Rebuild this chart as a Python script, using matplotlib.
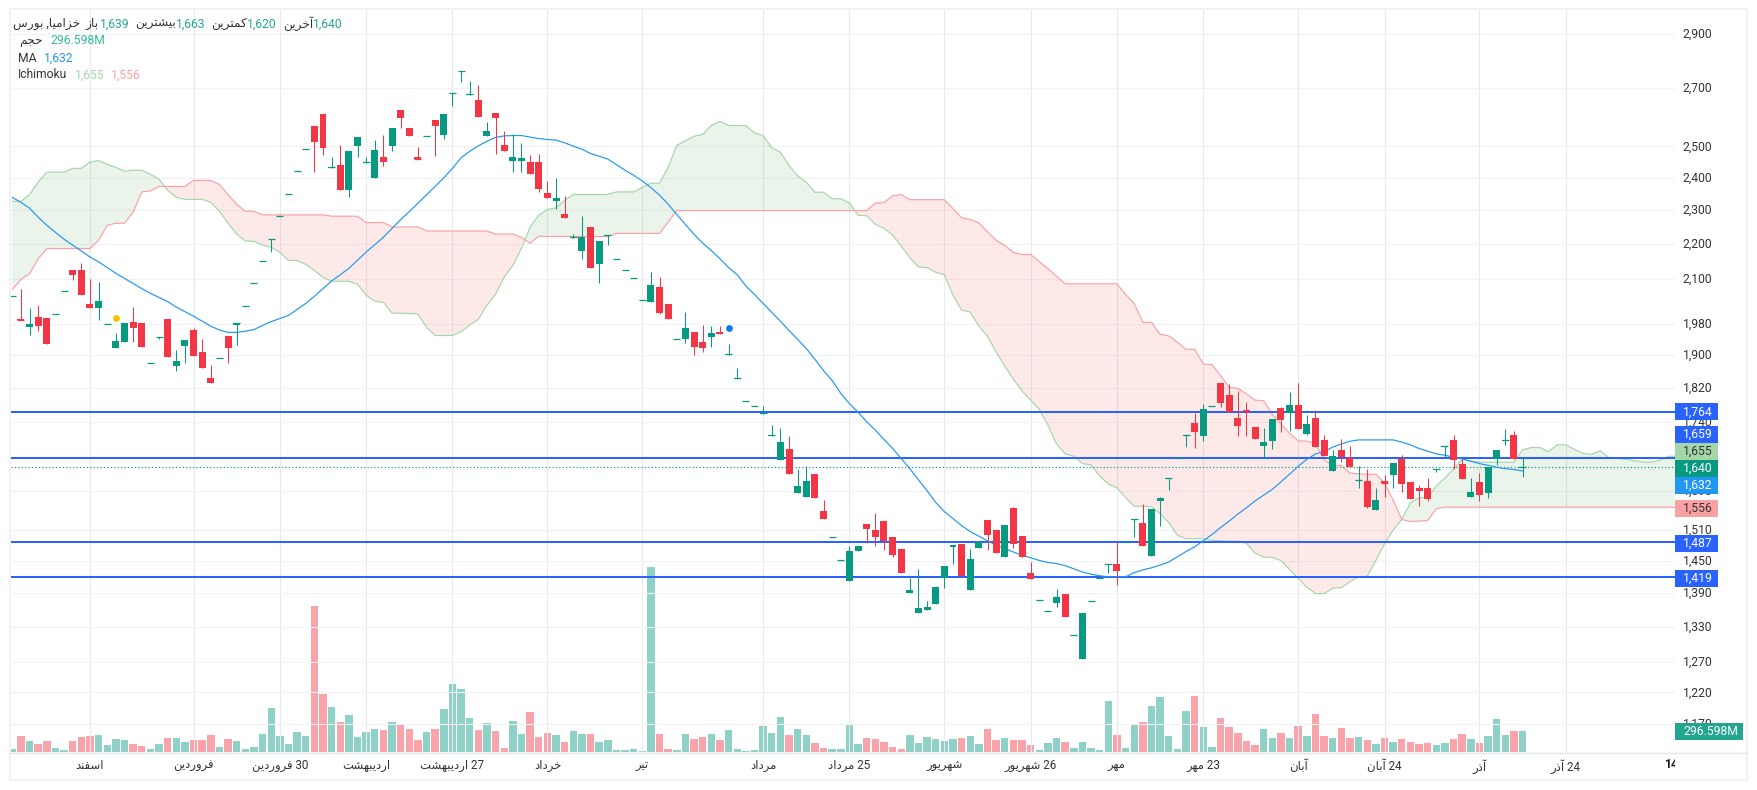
import re
import matplotlib.pyplot as plt
from matplotlib.patches import Rectangle
from matplotlib.transforms import Bbox, ScaledTranslation

plt.rcParams['font.family'] = ['Roboto', 'DejaVu Sans']

opens = [2053,1994,1971,1998,1995,2005,2067,2124,2124,2032,2021,1979,1918,1933,1985,1982,1882,1947,1992,1873,
         1923,1964,1908,1844,1892,1948,1977,2028,2090,2150,2213,2283,2349,2421,2493,2567,2608,2431,2439,2360,
         2501,2447,2397,2464,2501,2621,2563,2464,2536,2590,2537,2681,2760,2676,2656,2534,2611,2504,2454,2454,
         2448,2451,2351,2326,2287,2218,2178,2248,2141,2222,2157,2124,2104,2044,2037,2077,2032,1942,1941,1959,
         1933,1946,1959,1901,1842,1788,1777,1760,1708,1656,1680,1585,1577,1625,1548,1497,1452,1412,1469,1522,
         1510,1528,1496,1473,1390,1354,1360,1370,1418,1477,1483,1395,1475,1530,1510,1457,1554,1498,1428,1377,
         1357,1372,1388,1315,1274,1375,1417,1443,1445,1487,1531,1524,1459,1569,1614,1661,1709,1738,1708,1777,
         1832,1803,1749,1768,1729,1686,1697,1773,1761,1779,1713,1749,1700,1632,1678,1660,1612,1610,1550,1610,
         1623,1658,1608,1596,1596,1635,1684,1700,1647,1577,1608,1585,1658,1698,1711,1639]
highs = [2053,2072,2021,2029,1995,2005,2067,2124,2144,2100,2091,1979,1956,1982,2024,1982,1882,1947,1992,1913,
         1938,1969,1941,1875,1892,1948,1981,2028,2090,2150,2215,2283,2349,2421,2493,2567,2608,2464,2504,2484,
         2530,2464,2520,2537,2560,2621,2563,2497,2536,2590,2608,2683,2762,2724,2712,2580,2611,2550,2540,2510,
         2471,2474,2388,2397,2341,2228,2281,2248,2207,2224,2157,2124,2104,2044,2119,2105,2032,1942,2011,1959,
         1977,1974,1974,1928,1868,1788,1777,1777,1733,1727,1708,1636,1642,1625,1571,1497,1452,1479,1479,1522,
         1544,1528,1496,1473,1417,1434,1375,1401,1440,1481,1483,1473,1486,1530,1510,1520,1556,1498,1448,1377,
         1357,1397,1388,1315,1354,1375,1417,1445,1486,1487,1533,1562,1552,1577,1616,1661,1711,1761,1782,1777,
         1832,1829,1813,1787,1729,1727,1747,1775,1811,1832,1756,1768,1711,1678,1702,1686,1642,1636,1596,1623,
         1649,1666,1608,1602,1617,1637,1686,1711,1658,1617,1627,1640,1678,1725,1720,1663]
lows = [2053,1990,1950,1961,1928,2005,2067,2097,2056,2021,1990,1979,1918,1933,1933,1920,1882,1941,1895,1861,
        1880,1898,1868,1832,1892,1880,1926,2028,2090,2150,2175,2283,2349,2421,2493,2419,2471,2431,2360,2338,
        2464,2447,2397,2435,2484,2563,2534,2458,2536,2468,2524,2635,2720,2676,2597,2534,2474,2484,2416,2419,
        2410,2354,2335,2302,2275,2218,2155,2130,2088,2196,2157,2124,2104,2044,2037,2005,1992,1942,1931,1900,
        1908,1920,1954,1901,1842,1788,1777,1760,1708,1656,1625,1585,1577,1575,1532,1497,1452,1412,1469,1484,
        1479,1471,1457,1428,1390,1354,1360,1370,1399,1444,1421,1395,1475,1471,1465,1457,1475,1457,1416,1377,
        1357,1365,1347,1315,1274,1375,1417,1428,1405,1487,1496,1479,1459,1518,1592,1661,1684,1682,1697,1777,
        1775,1763,1708,1708,1702,1662,1680,1717,1720,1725,1711,1684,1664,1632,1651,1640,1596,1554,1550,1577,
        1596,1588,1573,1558,1569,1629,1662,1636,1615,1577,1569,1575,1645,1688,1658,1620]
closes = [2053,1990,1979,1974,1928,2005,2067,2110,2056,2021,2040,1979,1935,1982,1969,1920,1882,1947,1895,1885,
          1938,1898,1868,1832,1892,1918,1981,2028,2090,2150,2215,2283,2349,2421,2493,2514,2494,2433,2360,2484,
          2530,2449,2487,2448,2560,2594,2534,2458,2536,2567,2608,2683,2762,2678,2597,2550,2594,2484,2464,2461,
          2410,2363,2335,2335,2275,2220,2219,2130,2207,2224,2157,2124,2104,2044,2083,2008,1992,1942,1969,1920,
          1918,1956,1954,1903,1844,1788,1777,1762,1710,1695,1625,1600,1610,1575,1532,1497,1452,1469,1479,1512,
          1496,1488,1461,1428,1395,1363,1365,1401,1440,1481,1421,1453,1486,1500,1465,1520,1483,1457,1416,1377,
          1357,1383,1347,1315,1354,1375,1417,1445,1430,1487,1533,1479,1552,1575,1616,1661,1711,1717,1770,1777,
          1784,1763,1731,1763,1702,1695,1747,1745,1779,1725,1735,1684,1664,1664,1662,1640,1613,1556,1571,1606,
          1649,1604,1573,1590,1573,1637,1686,1656,1615,1588,1581,1640,1678,1699,1658,1640]
# volume in millions
volumes = [42,226,155,113,155,57,28,155,212,226,240,99,184,170,113,85,42,113,198,198,
           141,170,170,240,71,184,155,42,71,254,622,226,113,283,226,2063,820,636,424,523,
           212,283,325,311,424,382,325,170,283,325,608,961,890,480,311,410,297,57,438,254,
           565,212,268,240,141,297,254,254,141,170,28,28,42,14,2614,254,42,28,254,184,
           212,254,170,311,42,14,28,367,268,495,240,325,240,127,57,42,42,382,113,198,
           184,141,71,42,240,127,212,184,155,184,198,226,113,325,170,198,170,170,99,28,
           127,198,141,57,141,57,28,721,240,57,396,424,650,777,226,42,579,791,353,71,
           480,353,268,155,99,325,198,268,198,367,226,537,226,198,339,198,212,170,113,198,
           141,184,141,113,127,99,127,184,254,184,127,226,466,240,297,296.598]
ma_line = [2338,2323,2305,2278,2254,2233,2213,2196,2179,2162,2148,2132,2116,2102,2088,2074,2061,2050,2039,2024,
           2012,2000,1987,1974,1964,1958,1958,1961,1965,1976,1986,1994,2002,2018,2034,2053,2074,2095,2112,2130,
           2153,2176,2197,2219,2245,2271,2295,2320,2346,2372,2399,2429,2463,2484,2502,2517,2530,2535,2536,2536,
           2531,2526,2523,2521,2512,2501,2491,2477,2468,2459,2441,2423,2407,2389,2368,2345,2317,2286,2256,2227,
           2202,2180,2157,2132,2112,2081,2058,2034,2010,1987,1963,1940,1917,1890,1862,1838,1807,1783,1763,1741,
           1722,1701,1681,1659,1637,1613,1590,1566,1547,1533,1519,1507,1498,1489,1480,1474,1467,1461,1456,1451,
           1447,1445,1441,1435,1429,1425,1422,1420,1420,1420,1428,1433,1437,1442,1448,1458,1468,1477,1489,1501,
           1515,1528,1542,1555,1569,1581,1593,1609,1625,1642,1657,1669,1674,1684,1691,1697,1700,1700,1700,1700,
           1700,1695,1689,1681,1675,1669,1666,1662,1658,1653,1648,1644,1640,1637,1635,1632]
span_a = [2326,2326,2347,2386,2417,2417,2417,2429,2429,2449,2454,2442,2432,2420,2423,2423,2410,2395,2360,2338,
          2332,2332,2332,2323,2296,2260,2228,2208,2207,2196,2190,2175,2152,2152,2141,2124,2105,2094,2094,2094,
          2086,2056,2040,2037,2008,2008,2007,2006,1971,1950,1950,1950,1960,1977,1992,2029,2059,2106,2138,2186,
          2249,2284,2301,2306,2329,2347,2347,2347,2347,2347,2355,2355,2355,2369,2382,2382,2433,2504,2519,2534,
          2540,2570,2584,2570,2570,2569,2545,2536,2496,2481,2439,2405,2385,2354,2354,2334,2334,2321,2284,2282,
          2257,2245,2225,2193,2160,2134,2132,2119,2112,2056,2016,2011,1974,1948,1908,1873,1841,1813,1791,1770,
          1733,1691,1669,1664,1648,1645,1621,1604,1596,1576,1558,1558,1557,1543,1525,1500,1493,1493,1493,1490,
          1489,1488,1488,1484,1465,1457,1457,1451,1434,1417,1401,1389,1389,1399,1400,1411,1420,1421,1451,1483,
          1510,1531,1565,1576,1576,1600,1617,1636,1658,1653,1651,1651,1651,1651,1651,1678,1683,1683,1674,1689,
          1689,1679,1670,1668,1676,1661,1660,1657,1654,1651,1651,1656,1664,1664]
span_b = [2072,2099,2115,2157,2186,2186,2186,2186,2186,2186,2210,2254,2260,2260,2293,2355,2358,2372,2372,2372,
          2372,2391,2391,2391,2378,2347,2317,2296,2296,2285,2285,2285,2285,2285,2285,2285,2285,2281,2281,2281,
          2281,2262,2262,2262,2249,2249,2249,2249,2237,2237,2237,2237,2237,2237,2237,2237,2228,2228,2228,2219,
          2201,2222,2221,2221,2221,2221,2221,2221,2221,2221,2230,2230,2230,2230,2230,2230,2264,2298,2298,2298,
          2298,2298,2298,2298,2298,2298,2298,2298,2298,2298,2298,2298,2298,2298,2298,2298,2298,2298,2298,2298,
          2321,2322,2343,2347,2331,2331,2331,2331,2331,2304,2276,2271,2261,2234,2210,2195,2175,2169,2169,2149,
          2129,2108,2087,2087,2087,2087,2087,2087,2087,2058,2034,1984,1984,1953,1949,1933,1915,1915,1878,1877,
          1850,1822,1819,1806,1791,1790,1758,1736,1715,1698,1697,1692,1656,1644,1644,1627,1626,1625,1625,1606,
          1571,1531,1527,1528,1529,1553,1556,1556,1556,1556,1556,1556,1556,1556,1556,1556,1556,1556,1556,1556,
          1556,1556,1556,1556,1556,1556,1556,1556,1556,1556,1556,1556,1556,1556]
levels = [1764, 1659, 1487, 1419]
last_price = 1640
yellow_dot = (12, 1995)
blue_dot = (83, 1969)

price_ticks = [2900,2700,2500,2400,2300,2200,2100,1980,1900,1820,1740,1660,1590,1510,1450,1390,1330,1270,1220,1170]
month_ticks = [9,21,31,41,51,62,73,87,97,108,118,128,138,149,159,170,180]
month_labels = ['اسفند','فروردین','30 فروردین','اردیبهشت','27 اردیبهشت','خرداد','تیر','مرداد','25 مرداد',
                'شهریور','26 شهریور','مهر','23 مهر','آبان','24 آبان','آذر','24 آذر']

W, H = 1757, 790
UP, DOWN = '#089981', '#f23645'
SPAN_A_C, SPAN_B_C = '#a5d6a7', '#faa1a4'
TEXT = '#333333'

# matplotlib does no arabic shaping, so map to presentation forms and lay out right to left
BASE = {'ا':0xFE8D,'آ':0xFE81,'ب':0xFE8F,'ت':0xFE95,'ج':0xFE9D,'ح':0xFEA1,'خ':0xFEA5,'د':0xFEA9,'ذ':0xFEAB,
        'ر':0xFEAD,'ز':0xFEAF,'س':0xFEB1,'ش':0xFEB5,'ف':0xFED1,'ک':0xFB8E,'م':0xFEE1,'ن':0xFEE5,'ه':0xFEE9,
        'و':0xFEED,'ی':0xFBFC}
NO_NEXT = 'اآدذرزو'

def fa(text):
    out = []
    for k, ch in enumerate(text):
        if ch not in BASE:
            out.append(ch)
            continue
        prev = text[k-1] if k > 0 else ''
        nxt = text[k+1] if k+1 < len(text) else ''
        join_prev = prev in BASE and prev not in NO_NEXT
        join_next = ch not in NO_NEXT and nxt in BASE
        if join_prev and join_next:
            form = 3
        elif join_next:
            form = 2
        elif join_prev:
            form = 1
        else:
            form = 0
        out.append(chr(BASE[ch] + form))
    return re.sub(r'\d+', lambda m: m.group()[::-1], ''.join(out[::-1]))

fig = plt.figure(figsize=(W/100, H/100), dpi=100)
ax_vol = fig.add_axes([10.5/W, 1-752/H, (1675-10.5)/W, 742/H])
ax = fig.add_axes([10.5/W, 1-752/H, (1675-10.5)/W, 742/H])
ax.set_zorder(2)
ax.patch.set_visible(False)

idx = list(range(len(opens)))
colors = [UP if c >= o else DOWN for o, c in zip(opens, closes)]
vol_colors = [c + '73' for c in colors]

# volume goes on its own linear scale at the bottom
ax_vol.bar(idx, volumes, width=0.86, color=vol_colors, linewidth=0)
ax_vol.set_xlim(-0.21, 192.66)
ax_vol.set_ylim(0, 10485)
ax_vol.axis('off')

ax.set_yscale('log')
ax.set_xlim(-0.21, 192.66)
ax.set_ylim(1128, 2991)

cloud_x = list(range(len(span_a)))
ax.fill_between(cloud_x, span_a, span_b, where=[a >= b for a, b in zip(span_a, span_b)], interpolate=True,
                color='#43a047', alpha=0.11, linewidth=0)
ax.fill_between(cloud_x, span_a, span_b, where=[a < b for a, b in zip(span_a, span_b)], interpolate=True,
                color='#f44336', alpha=0.11, linewidth=0)
ax.plot(cloud_x, span_a, color=SPAN_A_C, lw=0.85)
ax.plot(cloud_x, span_b, color=SPAN_B_C, lw=0.85)
ax.plot(idx, ma_line, color='#2196f3', lw=0.85, zorder=4)

for lv in levels:
    ax.axhline(lv, color='#2962ff', lw=1.45, zorder=3)
ax.axhline(last_price, color=UP, lw=0.85, dashes=(1, 1.9), zorder=3)

ax.vlines(idx, lows, highs, color=colors, lw=0.75, zorder=5)
tops = [max(o, c) for o, c in zip(opens, closes)]
bots = [min(o, c) for o, c in zip(opens, closes)]
ax.bar(idx, [t-b for t, b in zip(tops, bots)], bottom=bots, width=0.81, color=colors, linewidth=0, zorder=5)
thin = [k for k in idx if (tops[k]-bots[k])/tops[k] < 0.0025]
ax.hlines([closes[k] for k in thin], [k-0.405 for k in thin], [k+0.405 for k in thin],
          color=[colors[k] for k in thin], lw=0.9, zorder=5)

ax.scatter([yellow_dot[0]], [yellow_dot[1]], s=24, color='#f5c400', linewidth=0, zorder=6)
ax.scatter([blue_dot[0]], [blue_dot[1]], s=24, color='#0b7de0', linewidth=0, zorder=6)

ax.yaxis.tick_right()
ax.set_yticks(price_ticks, [f'{p:,}' for p in price_ticks])
ax.minorticks_off()
ax.set_xticks(month_ticks, [fa(s) for s in month_labels])
ax.tick_params(axis='y', length=0, pad=5.6, labelsize=8.7, labelcolor=TEXT)
ax.tick_params(axis='x', length=0, pad=5, labelsize=8.4, labelcolor=TEXT)
# price labels sit a pixel above their grid line
up_1px = ScaledTranslation(0, 1/100, fig.dpi_scale_trans)
for t in ax.get_yticklabels():
    t.set_transform(t.get_transform() + up_1px)
ax.set_axisbelow(True)
ax.grid(axis='y', color='#f1f2f5', lw=0.8)
ax.grid(axis='x', color='#e8e9ed', lw=0.8)
for s in ax.spines.values():
    s.set_visible(False)

# outer frame and bottom axis line
fig.add_artist(Rectangle((10/W, 1-780/H), 1737/W, 771/H, fill=False, ec='#f0f0f6', lw=1.3, transform=fig.transFigure))
fig.add_artist(plt.Line2D([10.5/W, 1747/W], [1-752.5/H, 1-752.5/H], color='#e0e3eb', lw=1, transform=fig.transFigure))

# the year label is cut off by the end of the time scale
year = fig.text(1664/W, 1-765/H, '1404', fontsize=8.7, fontweight='bold', color='#131722', ha='left', va='center')
year.set_clip_on(True)
year.set_clip_box(Bbox([[0, 0], [1675, H]]))

def badge(y, label, bg, fg='white', w=43):
    fig.add_artist(Rectangle((1675/W, 1-(y+8.5)/H), w/W, 17/H, fc=bg, ec='none', transform=fig.transFigure, zorder=5))
    fig.text(1683/W, 1-y/H, label, fontsize=8.7, color=fg, ha='left', va='center', zorder=6)

badge(412, '1,764', '#2962ff')
badge(434, '1,659', '#2962ff')
badge(451, '1,655', SPAN_A_C, TEXT)
badge(468, '1,640', UP)
badge(485, '1,632', '#2196f3')
badge(508, '1,556', SPAN_B_C, TEXT)
badge(543, '1,487', '#2962ff')
badge(578, '1,419', '#2962ff')
badge(731.5, '296.598M', '#22a68f', w=68)

# legend rows at top left
def top_text(x, y, s, color=TEXT, ha='left'):
    fig.text(x/W, 1-y/H, s, fontsize=8.7, color=color, ha=ha, va='center', zorder=6)

GREEN_T = '#26a68f'
top_text(80, 24, fa('خزامیا, بورس'), ha='right')
top_text(99, 24, fa('باز'), ha='right')
top_text(99.5, 24, '1,639', GREEN_T)
top_text(176, 24, fa('بیشترین'), ha='right')
top_text(176, 24, '1,663', GREEN_T)
top_text(247, 24, fa('کمترین'), ha='right')
top_text(247, 24, '1,620', GREEN_T)
top_text(313, 24, fa('آخرین'), ha='right')
top_text(313, 24, '1,640', GREEN_T)
top_text(43, 41, fa('حجم'), ha='right')
top_text(50, 41, '296.598M', '#35b99e')
top_text(18, 58, 'MA')
top_text(44, 58, '1,632', '#2196f3')
top_text(18, 75, 'Ichimoku')
top_text(75, 75, '1,655', SPAN_A_C)
top_text(111, 75, '1,556', SPAN_B_C)

fig.savefig('out.png', dpi=100)
